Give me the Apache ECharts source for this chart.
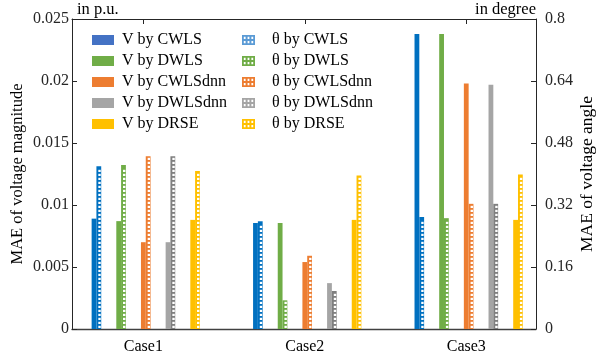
<!DOCTYPE html>
<html>
<head>
<meta charset="utf-8">
<script src="https://cdn.jsdelivr.net/npm/echarts@6/dist/echarts.min.js"></script>
<style>
  html, body { margin: 0; padding: 0; background: #fff; }
  #chart { width: 597px; height: 351px; }
</style>
</head>
<body>
<div id="chart"></div>
<script>
// Test cases on the x axis
const cases = ['Case1', 'Case2', 'Case3'];
const methods = ['CWLS', 'DWLS', 'CWLSdnn', 'DWLSdnn', 'DRSE'];

// MAE of voltage magnitude (p.u.), left axis
const vCWLS    = [0.0089, 0.00855, 0.0238];
const vDWLS    = [0.0087, 0.00855, 0.0238];
const vCWLSdnn = [0.0070, 0.0054, 0.0198];
const vDWLSdnn = [0.0070, 0.0037, 0.0197];
const vDRSE    = [0.0088, 0.0088, 0.0088];

// MAE of voltage angle (degree), right axis
const aCWLS    = [0.420, 0.278, 0.289];
const aDWLS    = [0.423, 0.074, 0.286];
const aCWLSdnn = [0.446, 0.189, 0.323];
const aDWLSdnn = [0.446, 0.098, 0.323];
const aDRSE    = [0.408, 0.396, 0.399];

// Tick values of both value axes
const vTicks = [0, 0.005, 0.01, 0.015, 0.02, 0.025];
const aTicks = [0, 0.16, 0.32, 0.48, 0.64, 0.8];

const vSeries = [vCWLS, vDWLS, vCWLSdnn, vDWLSdnn, vDRSE];
const aSeries = [aCWLS, aDWLS, aCWLSdnn, aDWLSdnn, aDRSE];

const vBarColors = ['#0070C0', '#70AD47', '#ED7D31', '#A5A5A5', '#FFC000'];
const aBarColors = ['#0070C0', '#70AD47', '#ED7D31', '#7F7F7F', '#FFC000'];
const vKeyColors = ['#4472C4', '#70AD47', '#ED7D31', '#A5A5A5', '#FFC000'];
const aKeyColors = ['#5B9BD5', '#70AD47', '#ED7D31', '#A5A5A5', '#FFC000'];

const SERIF = "'Liberation Serif', 'Times New Roman', serif";
const INK = '#262626';

// Bar geometry in x-axis units (one case = 1 unit)
const SLOT = 0.1528;   // distance between method pairs
const BAR_W = 0.0297;  // width of a single bar

// Icon for hatched legend keys: filled box with two rows of small square holes
const hatchIcon = 'path://M0,0H13V10H0Z' +
  'M1.8,1.8V3.9H3.6V1.8Z M5.6,1.8V3.9H7.4V1.8Z M9.4,1.8V3.9H11.2V1.8Z' +
  'M1.8,6.1V8.2H3.6V6.1Z M5.6,6.1V8.2H7.4V6.1Z M9.4,6.1V8.2H11.2V6.1Z';

function makeRenderer(k, hatched, color) {
  return function (params, api) {
    const c = api.value(0);
    const v = api.value(1);
    const mid = c + (k - 2) * SLOT;
    const x0 = hatched ? mid + BAR_W / 2 : mid - BAR_W / 2;
    const pTop = api.coord([x0, v]);
    const pBase = api.coord([x0 + BAR_W, 0]);
    const rect = {
      x: pTop[0],
      y: pTop[1],
      width: pBase[0] - pTop[0],
      height: pBase[1] - pTop[1]
    };
    const children = [{ type: 'rect', shape: rect, style: { fill: color } }];
    if (hatched) {
      for (let y = pBase[1] - 1; y - 2 > pTop[1] + 1; y -= 4) {
        children.push({
          type: 'rect',
          shape: { x: rect.x + rect.width * 0.4, y: y - 2.2, width: rect.width * 0.5, height: 2.2 },
          style: { fill: '#ffffff' }
        });
      }
    }
    return { type: 'group', children: children };
  };
}

const series = [];
methods.forEach(function (m, k) {
  series.push({
    name: 'V by ' + m,
    type: 'custom',
    coordinateSystem: 'cartesian2d',
    xAxisIndex: 0,
    yAxisIndex: 0,
    itemStyle: { color: vKeyColors[k] },
    encode: { x: 0, y: 1 },
    data: vSeries[k].map(function (val, i) { return [i + 1, val]; }),
    renderItem: makeRenderer(k, false, vBarColors[k])
  });
});
methods.forEach(function (m, k) {
  series.push({
    name: '\u03b8 by ' + m,
    type: 'custom',
    coordinateSystem: 'cartesian2d',
    xAxisIndex: 0,
    yAxisIndex: 1,
    itemStyle: { color: aKeyColors[k] },
    encode: { x: 0, y: 1 },
    data: aSeries[k].map(function (val, i) { return [i + 1, val]; }),
    renderItem: makeRenderer(k, true, aBarColors[k])
  });
});

const caseTicks = cases.map(function (_, i) { return i + 1; });

const chart = echarts.init(document.getElementById('chart'), null, { renderer: 'canvas' });
chart.setOption({
  animation: false,
  backgroundColor: '#ffffff',
  textStyle: { fontFamily: SERIF },
  grid: { left: 72, right: 61, top: 19, bottom: 22, containLabel: false, outerBoundsMode: 'none' },
  xAxis: [
    {
      type: 'value',
      position: 'bottom',
      min: 0.558,
      max: 3.432,
      splitLine: { show: false },
      axisLine: { show: true, onZero: false, lineStyle: { color: '#404040', width: 1.4 } },
      axisTick: { show: true, inside: true, length: 5, customValues: caseTicks, lineStyle: { color: INK } },
      axisLabel: {
        show: true,
        customValues: caseTicks,
        margin: 10,
        fontFamily: SERIF,
        fontSize: 16,
        color: '#000',
        formatter: function (val) { return cases[Math.round(val) - 1] || ''; }
      }
    },
    {
      type: 'value',
      position: 'top',
      min: 0.558,
      max: 3.432,
      splitLine: { show: false },
      axisLine: { show: true, onZero: false, lineStyle: { color: INK, width: 1 } },
      axisTick: { show: true, inside: true, length: 5, customValues: caseTicks, lineStyle: { color: INK } },
      axisLabel: { show: false }
    }
  ],
  yAxis: [
    {
      type: 'value',
      position: 'left',
      min: vTicks[0],
      max: vTicks[vTicks.length - 1],
      interval: vTicks[1] - vTicks[0],
      name: 'MAE of voltage magnitude',
      nameLocation: 'middle',
      nameRotate: 90,
      nameGap: 46,
      nameMoveOverlap: false,
      nameTextStyle: { fontFamily: SERIF, fontSize: 16.5, color: '#000' },
      splitLine: { show: false },
      axisLine: { show: true, lineStyle: { color: INK, width: 1 } },
      axisTick: { show: true, inside: true, length: 5, lineStyle: { color: INK } },
      axisLabel: { margin: 3, fontFamily: SERIF, fontSize: 16, color: INK }
    },
    {
      type: 'value',
      position: 'right',
      min: aTicks[0],
      max: aTicks[aTicks.length - 1],
      interval: aTicks[1] - aTicks[0],
      name: 'MAE of voltage angle',
      nameLocation: 'middle',
      nameRotate: 90,
      nameGap: 42,
      nameMoveOverlap: false,
      nameTextStyle: { fontFamily: SERIF, fontSize: 17.5, color: '#000' },
      splitLine: { show: false },
      axisLine: { show: true, lineStyle: { color: INK, width: 1 } },
      axisTick: { show: true, inside: true, length: 5, lineStyle: { color: INK } },
      axisLabel: {
        margin: 9,
        fontFamily: SERIF,
        fontSize: 16,
        color: INK,
        formatter: function (val) { return String(+val.toFixed(2)); }
      }
    }
  ],
  legend: [
    {
      orient: 'vertical',
      left: 92,
      top: 32,
      padding: 0,
      itemWidth: 22,
      itemHeight: 10,
      itemGap: 5,
      selectedMode: false,
      textStyle: { fontFamily: SERIF, fontSize: 16, color: '#000', padding: [0, 0, 0, 3] },
      data: methods.map(function (m, k) {
        return { name: 'V by ' + m, icon: 'rect', itemStyle: { color: vKeyColors[k] } };
      })
    },
    {
      orient: 'vertical',
      left: 242,
      top: 32,
      padding: 0,
      itemWidth: 13,
      itemHeight: 10,
      itemGap: 5,
      selectedMode: false,
      textStyle: { fontFamily: SERIF, fontSize: 16, color: '#000', padding: [0, 0, 0, 12] },
      data: methods.map(function (m, k) {
        return { name: '\u03b8 by ' + m, icon: hatchIcon, itemStyle: { color: aKeyColors[k], borderWidth: 0 } };
      })
    }
  ],
  graphic: [
    {
      type: 'text',
      left: 77,
      top: 1,
      style: { text: 'in p.u.', font: '16.5px ' + SERIF, fill: '#000' }
    },
    {
      type: 'text',
      right: 61,
      top: 1,
      style: { text: 'in degree', font: '16.5px ' + SERIF, fill: '#000' }
    }
  ],
  series: series
});
</script>
</body>
</html>
